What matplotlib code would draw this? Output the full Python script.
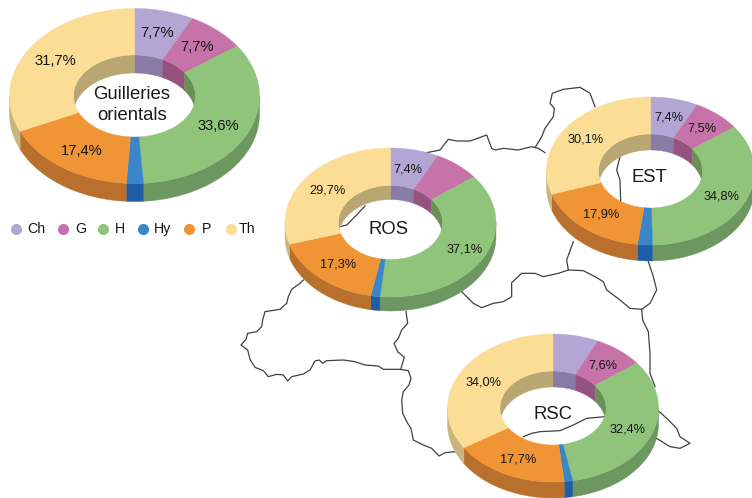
import numpy as np
import matplotlib
matplotlib.use("Agg")
import matplotlib.pyplot as plt

plt.rcParams["font.family"] = ["Liberation Sans", "DejaVu Sans"]

classes = ["Ch", "G", "H", "Hy", "P", "Th"]
guilleries = [7.7, 7.7, 33.6, 2.2, 17.4, 31.7]
ros = [7.4, 7.1, 37.1, 1.4, 17.3, 29.7]
est = [7.4, 7.5, 34.8, 2.3, 17.9, 30.1]
rsc = [7.0, 7.6, 32.4, 1.3, 17.7, 34.0]

top_col = ["#b3a6d4", "#c573a9", "#90c47b", "#3b86c9", "#f09535", "#fbdd96"]
side_col = ["#8d7fa9", "#94527e", "#6d9760", "#1f5ea6", "#b8702c", "#c9b67f"]
wall_col = ["#8a7ba6", "#95527f", "#6a9155", "#1f5ea6", "#b8702c", "#b8a673"]

west = (235, 280, [(205, 0), (195, 10), (170, 28), (160, 50), (155, 70), (135, 88), (90, 95), (83, 120), (80, 140),
                   (65, 155), (38, 160), (33, 178), (18, 195), (38, 210), (45, 238), (60, 262), (85, 272), (100, 290),
                   (125, 283), (145, 285), (158, 303), (170, 290), (205, 282), (225, 270), (240, 243), (253, 240),
                   (263, 250), (275, 242), (325, 240), (360, 245), (390, 255), (430, 258), (445, 268), (495, 268),
                   (520, 272), (528, 295), (522, 315), (505, 335), (500, 360), (503, 400), (518, 430), (528, 445),
                   (535, 480), (565, 495), (590, 505), (612, 528), (630, 518), (660, 515)])
centre = (235, 280, [(513, 95), (518, 130), (500, 150), (490, 175), (477, 190), (488, 215), (508, 232), (497, 268)])
north = (420, 80, [(20, 218), (60, 210), (85, 178), (110, 183), (150, 183), (200, 165), (215, 205), (225, 210),
                   (250, 205), (295, 210), (335, 200), (355, 205), (375, 218)])
north2 = (420, 80, [(345, 203), (365, 170), (375, 145), (400, 110), (403, 85), (390, 70), (397, 40), (430, 28),
                    (480, 22), (510, 40), (525, 80)])
middle = (460, 240, [(5, 155), (40, 190), (65, 203), (100, 190), (130, 185), (155, 170), (155, 128), (185, 100),
                     (225, 100), (250, 110), (295, 100), (325, 90), (370, 92), (405, 110), (430, 125), (440, 150),
                     (480, 180), (510, 205), (545, 208), (570, 190), (590, 150), (580, 110), (565, 65)])
middle2 = (460, 240, [(325, 90), (320, 60), (340, 5)])
east = (460, 240, [(545, 208), (548, 240), (565, 275), (570, 340), (570, 400), (585, 440)])
south_east = (460, 240, [(595, 512), (620, 535), (650, 565), (660, 590), (690, 610), (660, 625), (630, 620), (590, 595)])
rsc_hole = (460, 240, [(190, 590), (215, 580), (240, 575), (300, 572), (340, 555), (380, 535), (435, 530)])
est_hole = (230, 80, [(1170, 230), (1160, 270), (1170, 300), (1172, 365)])
ros_hole = (230, 80, [(405, 378), (375, 410), (350, 435), (330, 440)])
borders = [west, centre, north, north2, middle, middle2, east, south_east, rsc_hole, est_hole, ros_hole]


def ring_xy(cx, cy, rx, ry, a):
    return cx + rx * np.sin(a), cy - ry * np.cos(a)


def donut(ax, values, cx, cy, rx, ry, irx, iry, depth):
    edges = np.radians(np.concatenate([[0], np.cumsum(values)]) / np.sum(values) * 360)
    for i in range(len(values)):
        # outer wall, front half only
        a0, a1 = max(edges[i], np.pi / 2), min(edges[i + 1], 3 * np.pi / 2)
        if a1 > a0:
            a = np.linspace(a0, a1, 80)
            x, y = ring_xy(cx, cy, rx, ry, a)
            ax.fill(np.r_[x, x[::-1]], np.r_[y, y[::-1] + depth], color=side_col[i], lw=0.3, zorder=3)
    for i in range(len(values)):
        # inner wall, back half only
        for lo, hi in [(0, np.pi / 2), (3 * np.pi / 2, 2 * np.pi)]:
            a0, a1 = max(edges[i], lo), min(edges[i + 1], hi)
            if a1 > a0:
                a = np.linspace(a0, a1, 80)
                x, y = ring_xy(cx, cy, irx, iry, a)
                ax.fill(np.r_[x, x[::-1]], np.r_[y, y[::-1] + depth], color=wall_col[i], lw=0.3, zorder=3)
    for i in range(len(values)):
        a = np.linspace(edges[i], edges[i + 1], 150)
        x, y = ring_xy(cx, cy, rx, ry, a)
        xi, yi = ring_xy(cx, cy, irx, iry, a)
        ax.fill(np.r_[x, xi[::-1]], np.r_[y, yi[::-1]], color=top_col[i], lw=0.3, zorder=4)


fig = plt.figure(figsize=(7.52, 4.98), dpi=100)
ax = fig.add_axes([0, 0, 1, 1])
ax.set_xlim(0, 752)
ax.set_ylim(498, 0)
ax.axis("off")

for ox, oy, pts in borders:
    ax.plot([ox + p[0] / 3 for p in pts], [oy + p[1] / 3 for p in pts], color="#404040", lw=0.9, zorder=2)

donut(ax, guilleries, 134.5, 96, 125, 87.5, 61, 41, 18)
donut(ax, ros, 390.5, 222.5, 105.5, 74.5, 52, 37, 14)
donut(ax, est, 650.5, 171, 104, 74, 52, 37, 16)
donut(ax, rsc, 553, 408, 105.5, 74, 53, 37, 16)

ax.text(132, 105, "Guilleries\norientals", fontsize=13.3, ha="center", va="center", color="#1a1a1a",
        linespacing=1.38, zorder=6)
big = [("ROS", 389, 229), ("EST", 649, 177), ("RSC", 553, 414)]
for t, x, y in big:
    ax.text(x, y, t, fontsize=13.3, ha="center", va="center", color="#1a1a1a", zorder=6)

labels_big = [("7,7%", 157, 33), ("7,7%", 197, 47), ("33,6%", 218, 126), ("17,4%", 82, 151), ("31,7%", 55, 61)]
labels_small = [("7,4%", 408, 169), ("37,1%", 465, 249), ("17,3%", 338, 264), ("29,7%", 327, 190),
                ("7,4%", 669, 117), ("7,5%", 702, 128), ("34,8%", 721, 196), ("17,9%", 601, 214), ("30,1%", 586, 139),
                ("7,6%", 603, 365), ("32,4%", 628, 429), ("17,7%", 518, 459), ("34,0%", 484, 382)]
for t, x, y in labels_big:
    ax.text(x, y, t, fontsize=10.6, ha="center", va="center", color="#151515", zorder=6)
for t, x, y in labels_small:
    ax.text(x, y, t, fontsize=9.2, ha="center", va="center", color="#151515", zorder=6)

legend_x = [16, 63, 103, 143, 189, 231]
legend_text_x = [27, 75, 115, 154, 202, 239]
for c, name, x, tx in zip(top_col, classes, legend_x, legend_text_x):
    ax.scatter([x], [229], s=64, color=c, lw=0, zorder=5)
    ax.text(tx, 229, name, fontsize=10.2, ha="left", va="center", color="#151515", zorder=6)

fig.savefig("out.png", dpi=100)
